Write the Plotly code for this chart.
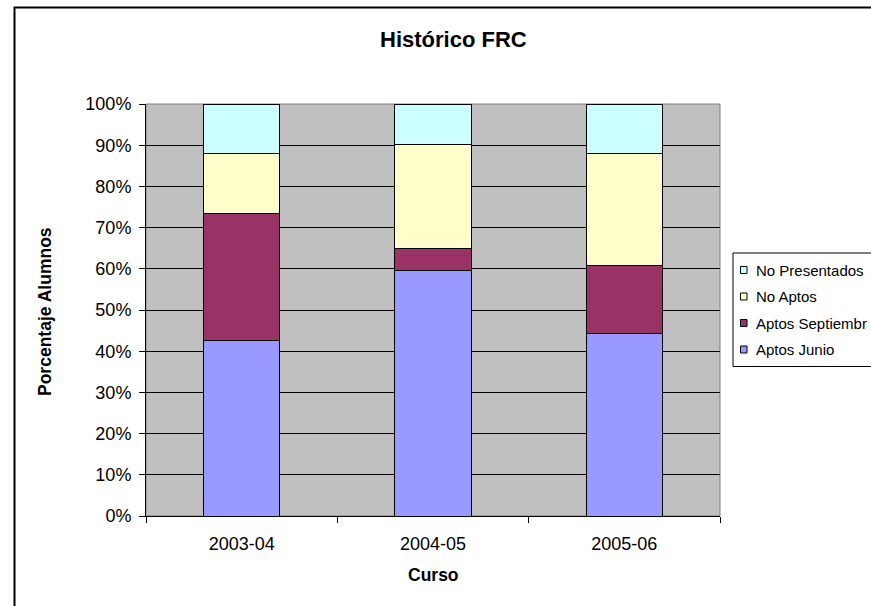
import plotly.graph_objects as go

# ---- data ----
categories = ["2003-04", "2004-05", "2005-06"]
series_names = ["Aptos Junio", "Aptos Septiembre", "No Aptos", "No Presentados"]
aptos_junio = [42.5, 59.6, 44.2]
aptos_septiembre = [31.0, 5.4, 16.7]
no_aptos = [14.6, 25.1, 27.2]
no_presentados = [11.9, 9.9, 11.9]
legend_series = ["No Presentados", "No Aptos", "Aptos Septiembre", "Aptos Junio"]
legend_labels = ["No Presentados", "No Aptos", "Aptos Septiembr", "Aptos Junio"]

colors = {
    "Aptos Junio": "#9999FF",
    "Aptos Septiembre": "#993366",
    "No Aptos": "#FFFFCC",
    "No Presentados": "#CCFFFF",
}
series_values = [aptos_junio, aptos_septiembre, no_aptos, no_presentados]

FONT = "Arial, Liberation Sans, sans-serif"
W, H = 871, 606
L, R, T, B = 146, 720, 104, 516  # plot area in page px


def px2x(px):
    return (px - L) / (R - L)


def py2y(py):
    return (B - py) / (B - T)


fig = go.Figure()
for name, vals in zip(series_names, series_values):
    fig.add_trace(go.Bar(
        x=categories, y=vals, name=name,
        marker=dict(color=colors[name], line=dict(color="#000000", width=1)),
        showlegend=False,
    ))

shapes = []
annotations = []

# outer chart border
shapes.append(dict(type="rect", xref="paper", yref="paper",
                   x0=px2x(14.5), x1=px2x(900), y0=py2y(640), y1=py2y(7.5),
                   line=dict(color="#000000", width=2), layer="below"))
# plot area border (grey)
shapes.append(dict(type="rect", xref="paper", yref="paper",
                   x0=0, x1=1, y0=0, y1=1,
                   line=dict(color="#808080", width=1), layer="below"))

# title
annotations.append(dict(text="<b>Histórico FRC</b>", xref="paper", yref="paper",
                        x=px2x(453.5), y=py2y(39.5), showarrow=False,
                        xanchor="center", yanchor="middle",
                        font=dict(family=FONT, size=22, color="#000000")))
# axis titles
annotations.append(dict(text="<b>Curso</b>", xref="paper", yref="paper",
                        x=px2x(433), y=py2y(575), showarrow=False,
                        xanchor="center", yanchor="middle",
                        font=dict(family=FONT, size=17.5, color="#000000")))
annotations.append(dict(text="<b>Porcentaje Alumnos</b>", xref="paper", yref="paper",
                        x=px2x(45), y=py2y(312), showarrow=False, textangle=-90,
                        xanchor="center", yanchor="middle",
                        font=dict(family=FONT, size=17.5, color="#000000")))

# legend (drawn by hand so it can run past the right edge like the reference)
shapes.append(dict(type="rect", xref="paper", yref="paper",
                   x0=px2x(733), x1=px2x(900), y0=py2y(366.5), y1=py2y(253),
                   line=dict(color="#000000", width=1), fillcolor="#FFFFFF"))
row_y = [270, 296.5, 323, 349.5]
for lbl, sname, yy in zip(legend_labels, legend_series, row_y):
    shapes.append(dict(type="rect", xref="paper", yref="paper",
                       x0=px2x(740.5), x1=px2x(747), y0=py2y(yy + 3.5), y1=py2y(yy - 3.5),
                       line=dict(color="#000000", width=1), fillcolor=colors[sname]))
    annotations.append(dict(text=lbl, xref="paper", yref="paper",
                            x=px2x(754), y=py2y(yy), showarrow=False,
                            xanchor="left", yanchor="middle",
                            font=dict(family=FONT, size=15, color="#000000")))

fig.update_layout(
    width=W, height=H,
    margin=dict(l=L, r=W - R, t=T, b=H - B, pad=0),
    barmode="stack",
    bargap=0.6,
    paper_bgcolor="#FFFFFF",
    plot_bgcolor="#C0C0C0",
    font=dict(family=FONT, size=18, color="#000000"),
    shapes=shapes,
    annotations=annotations,
    showlegend=False,
)
fig.update_xaxes(
    type="category", tickson="boundaries", ticks="outside", ticklen=6,
    tickcolor="#000000", showline=True, linecolor="#000000", linewidth=1,
    showgrid=False, tickfont=dict(family=FONT, size=18, color="#000000"),
    ticklabelstandoff=11,
)
fig.update_yaxes(
    range=[0, 100], dtick=10, ticksuffix="%", ticks="outside", ticklen=6,
    tickcolor="#000000", showline=True, linecolor="#000000", linewidth=1,
    showgrid=True, gridcolor="#000000", gridwidth=1, zeroline=False,
    tickfont=dict(family=FONT, size=18, color="#000000"),
    ticklabelstandoff=4,
)

fig.write_html(
    "out.html",
    config={"displayModeBar": False},
    post_script="document.body.style.margin='0';document.body.style.overflow='hidden';",
)
